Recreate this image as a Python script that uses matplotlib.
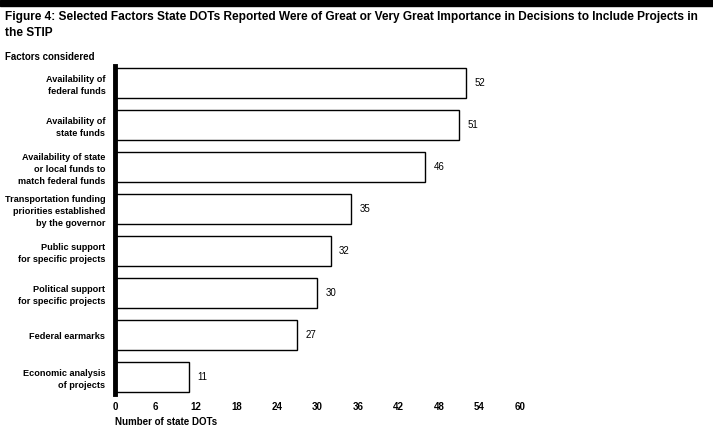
import matplotlib
matplotlib.use("Agg")
from matplotlib import pyplot as plt

factors = [
    "Availability of\nfederal funds",
    "Availability of\nstate funds",
    "Availability of state\nor local funds to\nmatch federal funds",
    "Transportation funding\npriorities established\nby the governor",
    "Public support\nfor specific projects",
    "Political support\nfor specific projects",
    "Federal earmarks",
    "Economic analysis\nof projects",
]
state_dots = [52, 51, 46, 35, 32, 30, 27, 11]
x_ticks = [0, 6, 12, 18, 24, 30, 36, 42, 48, 54, 60]

plt.rcParams['font.family'] = ['Liberation Sans', 'DejaVu Sans']

fig = plt.figure(figsize=(7.13, 4.30), dpi=100)
ax = fig.add_axes([0.1613, 0.0837, 0.568, 0.7628])

pos = list(range(len(factors)))
ax.barh(pos, state_dots, height=0.714, color="white", edgecolor="black", linewidth=1.0)
for p, v in zip(pos, state_dots):
    ax.text(v + 1.2, p, str(v), va="center", ha="left", fontsize=7)

ax.set_ylim(len(factors) - 1 + 0.405, -0.405)
ax.set_xlim(0, 60)
ax.set_yticks(pos)
ax.set_yticklabels(factors, fontsize=6.6, fontweight="bold", linespacing=1.4)
ax.set_xticks(x_ticks)
ax.set_xticklabels([str(t) for t in x_ticks], fontsize=7, fontweight="bold")
ax.tick_params(axis="both", length=0)
ax.tick_params(axis="y", pad=7)
ax.tick_params(axis="x", pad=6)
for s in ["top", "right", "bottom"]:
    ax.spines[s].set_visible(False)
ax.spines["left"].set_linewidth(3.5)

fig.text(115 / 713, 1 - 422 / 430, "Number of state DOTs", fontsize=7, fontweight="bold", ha="left", va="center")
fig.text(5 / 713, 1 - 57 / 430, "Factors considered", fontsize=7, fontweight="bold", ha="left", va="center")
fig.text(5 / 713, 1 - 11 / 430,
         "Figure 4: Selected Factors State DOTs Reported Were of Great or Very Great Importance in Decisions to Include Projects in\nthe STIP",
         fontsize=8.6, fontweight="bold", ha="left", va="top", linespacing=1.45)
fig.patches.append(plt.Rectangle((0, 1 - 6 / 430), 1, 6 / 430, transform=fig.transFigure, color="black"))

fig.savefig("out.png", dpi=100)
